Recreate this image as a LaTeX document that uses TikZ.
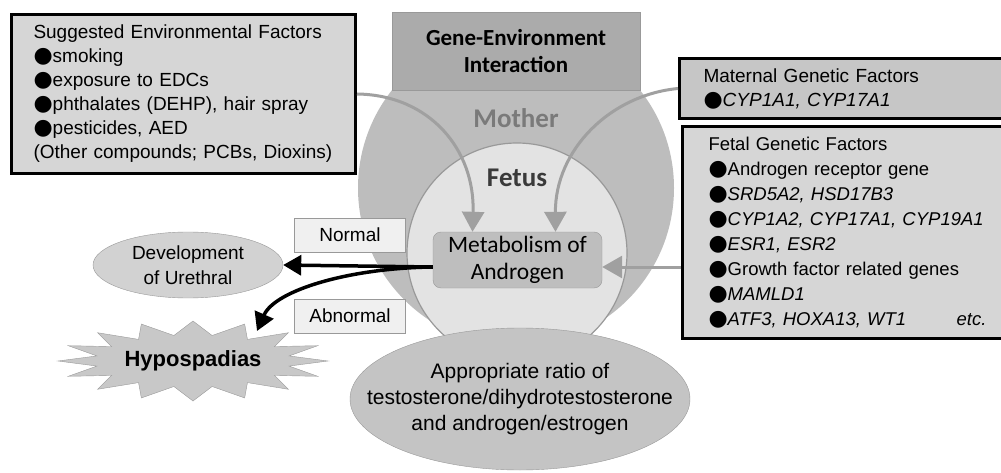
\documentclass[tikz,border=0pt]{standalone}
\usepackage{fontspec}
\setmainfont{Liberation Sans}
\newfontfamily\calibri{Carlito}
\newfontfamily\bulfont{DejaVu Sans}
\usepackage{xcolor}
\definecolor{cMother}  {HTML}{BDBDBD}
\definecolor{cFetus}   {HTML}{E3E3E3}
\definecolor{cGene}    {HTML}{ABABAB}
\definecolor{cBox}     {HTML}{D6D6D6}
\definecolor{cMat}     {HTML}{C6C6C6}
\definecolor{cMeta}    {HTML}{BEBEBE}
\definecolor{cRatio}   {HTML}{C4C4C4}
\definecolor{cDev}     {HTML}{D2D2D2}
\definecolor{cHyp}     {HTML}{C8C8C8}
\definecolor{cTag}     {HTML}{F0F0F0}
\definecolor{cEdge}    {HTML}{999999}
\definecolor{cArrow}   {HTML}{A0A0A0}
\definecolor{cMotherTx}{HTML}{7A7A7A}
\definecolor{cFetusTx} {HTML}{3A3A3A}
\usepackage{tikz}
\usetikzlibrary{shapes.geometric, arrows.meta, calc}
\newcommand{\blt}{{\bulfont\fontsize{22}{24}\selectfont ●}}
\tikzset{
  circ/.style     = {circle, inner sep=0pt},
  circtxt/.style  = {font=\calibri\bfseries\fontsize{27}{30}\selectfont},
  genebox/.style  = {rectangle, fill=cGene, draw=cEdge, minimum width=248pt,
                     minimum height=78pt, align=center,
                     font=\calibri\bfseries\fontsize{23}{27}\selectfont},
  metabox/.style  = {rectangle, rounded corners=8pt, fill=cMeta, draw=cEdge,
                     minimum width=169pt, minimum height=56pt, inner sep=0pt,
                     align=center, font=\calibri\fontsize{23.5}{27}\selectfont},
  factor/.style   = {rectangle, draw=black, line width=3pt, fill=cBox,
                     anchor=north west, align=left, inner ysep=0pt,
                     font=\fontsize{19}{24}\selectfont},
  ratiotxt/.style = {align=center, font=\fontsize{21}{26}\selectfont},
  devell/.style   = {ellipse, fill=cDev, draw=cEdge, minimum width=190pt,
                     minimum height=66pt, inner sep=0pt, align=center,
                     font=\fontsize{19}{25}\selectfont},
  hyptxt/.style   = {inner sep=0pt, font=\bfseries\fontsize{22}{26}\selectfont},
  hypshape/.style = {fill=cHyp, draw=cEdge},
  tagbox/.style   = {rectangle, fill=cTag, draw=cEdge, minimum width=111pt,
                     minimum height=34pt, font=\fontsize{19}{23}\selectfont},
  garr/.style     = {-{Triangle[width=22pt,length=20pt]}, line width=3pt,
                     draw=cArrow},
  barr/.style     = {-{Triangle[width=20pt,length=18pt]}, line width=3.5pt},
}

\begin{document}
\begin{tikzpicture}[x=1pt, y=-1pt]
  \useasboundingbox (0,0) rectangle (1001,473);
  \clip (0,0) rectangle (1001,473);

  % mother and fetus
  \node[circ, fill=cMother, minimum size=316pt] (mother) at (516,188) {};
  \node[circ, fill=cFetus, draw=cEdge, line width=1.2pt,
        minimum size=220pt] (fetus) at (517,253) {};
  \node[genebox] (gene) at (516,51) {Gene-Environment\\Interaction};
  \node[circtxt, text=cMotherTx] (mothertxt) at (516,118) {Mother};
  \node[circtxt, text=cFetusTx]  (fetustxt)  at (517,178) {Fetus};

  % ratio
  \path[fill=cRatio, draw=cEdge] (520,399) ellipse [x radius=170, y radius=71];
  \node[ratiotxt] (ratio) at (520,399)
        {Appropriate ratio of\\testosterone/dihydrotestosterone\\and androgen/estrogen};

  \node[metabox] (meta) at (517.5,260) {Metabolism of\\Androgen};

  % factors
  \node[factor, text width=300pt, inner xsep=22pt, minimum height=159pt]
        (env) at (10,13)
        {Suggested Environmental Factors\\
         \blt smoking\\
         \blt exposure to EDCs\\
         \blt phthalates (DEHP), hair spray\\
         \blt pesticides, AED\\
         (Other compounds; PCBs, Dioxins)};
  \node[factor, fill=cMat, text width=288pt, inner xsep=24pt, minimum height=60pt]
        (mat) at (678,57)
        {Maternal Genetic Factors\\
         \blt\textit{CYP1A1, CYP17A1}};
  \node[factor, text width=278pt, inner xsep=26pt, minimum height=212pt,
        font=\fontsize{18.5}{25}\selectfont]
        (fet) at (681,125)
        {Fetal Genetic Factors\\
         \blt Androgen receptor gene\\
         \blt\textit{SRD5A2, HSD17B3}\\
         \blt\textit{CYP1A2, CYP17A1, CYP19A1}\\
         \blt\textit{ESR1, ESR2}\\
         \blt Growth factor related genes\\
         \blt\textit{MAMLD1}\\
         \blt\textit{ATF3, HOXA13, WT1}\hfill\textit{etc.}};

  % outcomes
  \node[devell]  (dev)      at (188,265) {Development\\of Urethral};
  \filldraw[hypshape] plot[samples=33, domain=0:32, variable=\t]
        ({193+(135-37*mod(\t,2))*cos(\t*11.25)},
         {361+(40-14*mod(\t,2))*sin(\t*11.25)}) -- cycle;
  \node[hyptxt]  (hyp)      at (193,361) {Hypospadias};
  \node[tagbox]  (normal)   at (350,235) {Normal};
  \node[tagbox]  (abnormal) at (350,316) {Abnormal};

  \coordinate (metain)  at ([yshift=-7pt]meta.east);
  \coordinate (metaout) at ([yshift=-7pt]meta.west);
  \coordinate (hypin)   at (257,331);

  % arrows
  \draw[garr] (env.east) .. controls (430,95) and (475,150)
              .. ([xshift=-45pt]meta.north);
  \draw[garr] (mat.west) .. controls (610,95) and (555,150)
              .. ([xshift=38pt]meta.north);
  \draw[garr] (fet.west |- metain) -- (metain);
  \draw[barr] (metaout) -- (dev.east);
  \draw[barr] (metaout) .. controls (350,268) and (275,290) .. (hypin);

\end{tikzpicture}
\end{document}
